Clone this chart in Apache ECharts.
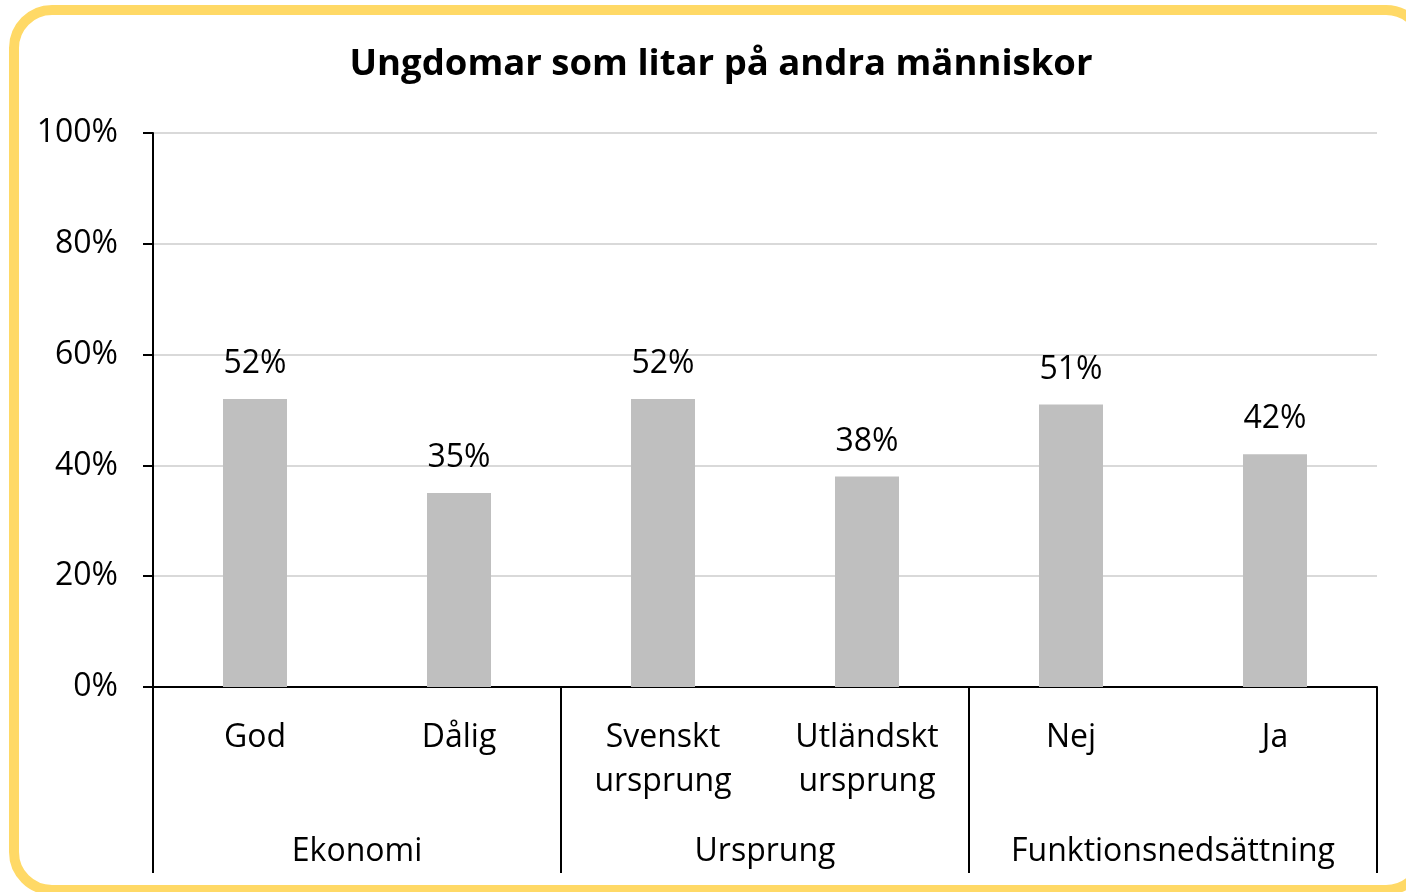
<!DOCTYPE html>
<html>
<head>
<meta charset="utf-8">
<title>Ungdomar som litar på andra människor</title>
<script src="https://cdn.jsdelivr.net/npm/echarts@6/dist/echarts.min.js"></script>
<style>
    html, body { margin: 0; padding: 0; background: #fff; }
    #chart { width: 1406px; height: 892px; }
</style>
</head>
<body>
<div id="chart"></div>
<script>
    const categories = ['God', 'Dålig', 'Svenskt\nursprung', 'Utländskt\nursprung', 'Nej', 'Ja']
    const groups = ['Ekonomi', 'Ursprung', 'Funktionsnedsättning']
    const values = [52, 35, 52, 38, 51, 42]
    const yTicks = [0, 20, 40, 60, 80, 100]

    const font = '"Open Sans", "Noto Sans", sans-serif'

    const chart = echarts.init(document.getElementById('chart'))
    const option = {
        animation: false,
        textStyle: { fontFamily: font },
        title: {
            text: 'Ungdomar som litar på andra människor',
            left: 716,
            top: 41,
            textAlign: 'center',
            textStyle: { fontFamily: font, fontWeight: 'bold', fontSize: 36.5, color: '#000' }
        },
        // gul ram runt diagrammet
        graphic: [
            {
                type: 'rect',
                silent: true,
                shape: { x: 14, y: 10, width: 1410, height: 880, r: 38 },
                style: { fill: 'none', stroke: '#FFD966', lineWidth: 10 }
            }
        ],
        grid: { left: 153, right: 29, top: 133, bottom: 205 },
        xAxis: [
            {
                type: 'category',
                data: categories,
                axisLine: { lineStyle: { color: '#000', width: 2 } },
                axisTick: { show: false },
                axisLabel: {
                    interval: 0,
                    margin: 29,
                    fontSize: 32,
                    lineHeight: 44,
                    color: '#000',
                    fontFamily: font
                }
            },
            {
                type: 'category',
                data: groups,
                position: 'bottom',
                axisLine: { show: false },
                axisTick: { show: true, length: 186, lineStyle: { color: '#000', width: 2 } },
                axisLabel: {
                    interval: 0,
                    margin: 145,
                    fontSize: 32,
                    lineHeight: 40,
                    color: '#000',
                    fontFamily: font
                }
            }
        ],
        yAxis: {
            type: 'value',
            min: yTicks[0],
            max: yTicks[yTicks.length - 1],
            interval: 20,
            axisLine: { show: true, lineStyle: { color: '#000', width: 2 } },
            axisTick: { show: true, length: 10, lineStyle: { color: '#000', width: 2 } },
            axisLabel: {
                formatter: '{value}%',
                margin: 35,
                fontSize: 32,
                color: '#000',
                fontFamily: font
            },
            splitLine: { lineStyle: { color: '#d9d9d9', width: 2 } }
        },
        series: [
            {
                type: 'bar',
                data: values,
                barWidth: 64,
                itemStyle: { color: '#bfbfbf' },
                label: {
                    show: true,
                    position: 'top',
                    distance: 19,
                    formatter: '{c}%',
                    fontSize: 32,
                    color: '#000',
                    fontFamily: font
                }
            }
        ]
    }
    chart.setOption(option)
</script>
</body>
</html>
